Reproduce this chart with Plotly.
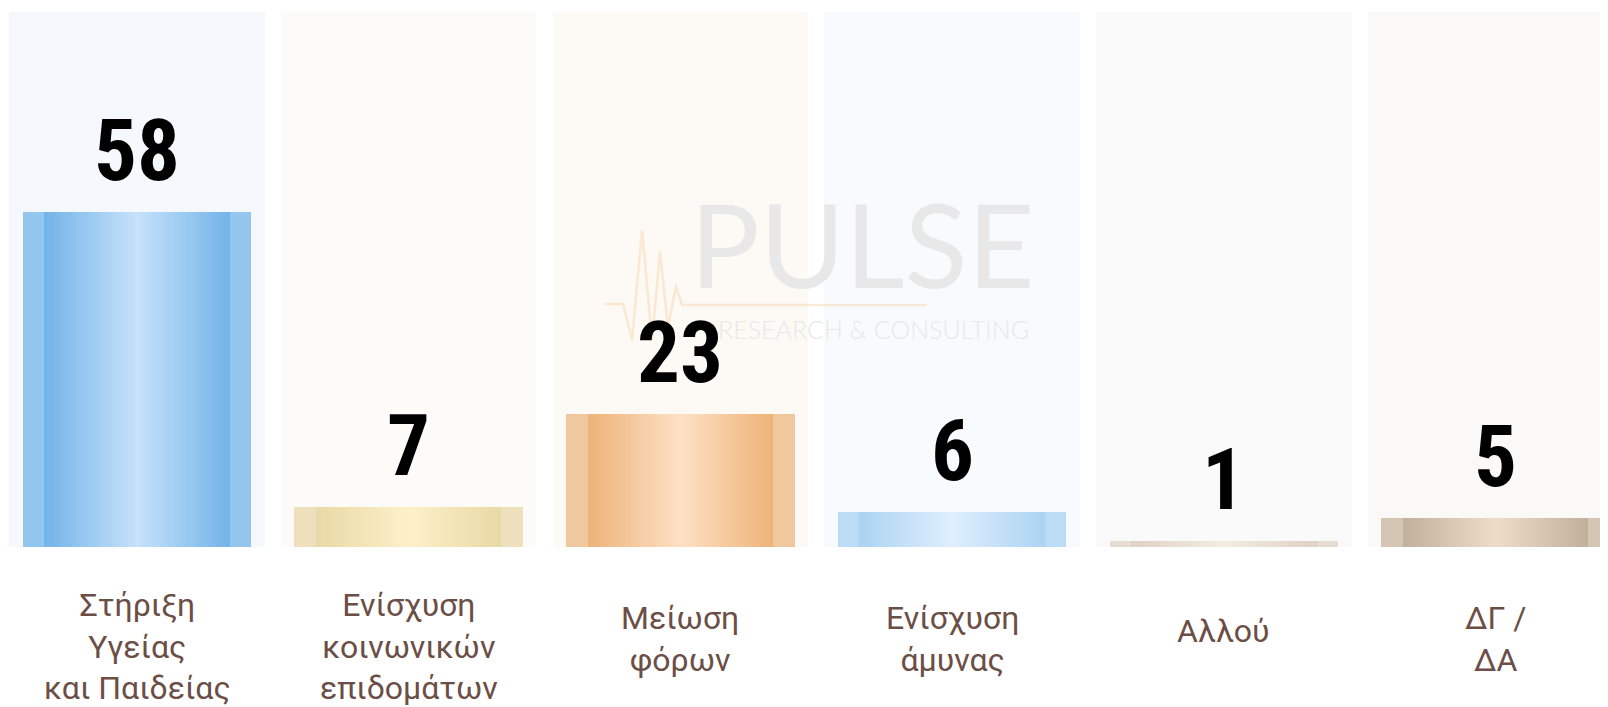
import plotly.graph_objects as go

# ---- data ----
categories = ["Στήριξη\nΥγείας\nκαι Παιδείας", "Ενίσχυση\nκοινωνικών\nεπιδομάτων",
              "Μείωση\nφόρων", "Ενίσχυση\nάμυνας", "Αλλού", "ΔΓ /\nΔΑ"]
values = [58, 7, 23, 6, 1, 5]

# ---- styles ----
strip_colors = ["#93c6ee", "#eee0bc", "#f0c89d", "#bcdcf6", "#e5ddd3", "#d4c5b5"]
edge_colors = ["#74b4e8", "#e9d9a6", "#edb479", "#acd3f3", "#ded2c4", "#c2b09b"]
center_colors = ["#c5e1fb", "#fdf0c8", "#fddfc4", "#deeefd", "#f3ece3", "#ecdcc8"]
column_colors = ["#f5f9fe", "#fdfbf7", "#fdf9f4", "#f7fbfd", "#fafafa", "#faf9f7"]
label_color = "#6b4e46"

W, H = 1608, 707
OFF = 8  # page body offset in the browser
x_idx = list(range(len(categories)))
col_height = max(values) * 1.6
BAR_W = 0.841
INNER_W = BAR_W * (1 - 2 * 0.094)
N_STEPS = 30


def hex2rgb(h):
    h = h.lstrip("#")
    return tuple(int(h[i:i + 2], 16) for i in (0, 2, 4))


def lerp(c1, c2, t):
    a, b = hex2rgb(c1), hex2rgb(c2)
    return "rgb(%d,%d,%d)" % tuple(round(a[i] + (b[i] - a[i]) * t) for i in range(3))


def px(x):
    return (x - OFF) / W


def py(y):
    return 1 - (y - OFF) / H


fig = go.Figure()

# background columns
fig.add_trace(go.Bar(x=x_idx, y=[col_height] * len(x_idx), width=0.94,
                     marker=dict(color=column_colors, line=dict(width=0)),
                     hoverinfo="skip", showlegend=False))

# outer strip
fig.add_trace(go.Bar(x=x_idx, y=values, width=BAR_W,
                     marker=dict(color=strip_colors, line=dict(width=0)),
                     hoverinfo="skip", showlegend=False))

# gradient (nested narrower bars, edge -> center)
for k in range(N_STEPS):
    t = k / (N_STEPS - 1)
    w = INNER_W * (1 - k / N_STEPS)
    cols = [lerp(edge_colors[i], center_colors[i], t) for i in range(len(values))]
    fig.add_trace(go.Bar(x=x_idx, y=values, width=w,
                         marker=dict(color=cols, line=dict(width=0)),
                         hoverinfo="skip", showlegend=False))

annotations = []
# value labels
for i, v in enumerate(values):
    annotations.append(dict(x=i, y=v, xref="x", yref="y", text=str(v), showarrow=False,
                            yanchor="bottom", yshift=9,
                            font=dict(family="Liberation Sans Narrow, Roboto Condensed, Roboto",
                                      size=85, color="#000000", weight="bold")))
# category labels
for i, c in enumerate(categories):
    lines = c.split("\n")
    n = len(lines)
    annotations.append(dict(x=i, y=0, xref="x", yref="y", text="<br>".join(lines),
                            showarrow=False, yanchor="middle",
                            yshift=-84 - 7.5 * (n - 1),
                            font=dict(family="Roboto", size=32, color=label_color)))

# watermark
annotations.append(dict(x=px(862), y=py(244), xref="paper", yref="paper", text="PULSE",
                        showarrow=False, xanchor="center", yanchor="middle",
                        font=dict(family="Lato", size=116, color="#e8e8e8", weight=400)))
annotations.append(dict(x=px(1031), y=py(329), xref="paper", yref="paper",
                        text="RESEARCH &amp; CONSULTING",
                        showarrow=False, xanchor="right", yanchor="middle",
                        font=dict(family="Lato", size=25, color="#e8e8e8", weight=300)))

pts = [(605, 304), (623, 304), (632, 340), (642, 230), (652, 340), (660, 252),
       (668, 327), (676, 287), (682, 305), (927, 305)]
path = "M " + " L ".join("%.4f,%.4f" % (px(a), py(b)) for a, b in pts)
shapes = [dict(type="path", path=path, xref="paper", yref="paper",
               line=dict(color="rgba(250,215,175,0.5)", width=2.5), layer="above")]

# axis ranges: baseline at screen y=547, 5.77 px/unit; category pitch 271.7 px, first at 137 px
x_per_px = 1 / 271.7
x0 = -(137 - OFF) * x_per_px
x1 = x0 + W * x_per_px
y_per_px = 1 / 5.77
y_top = (547 - OFF) * y_per_px
y_bot = y_top - H * y_per_px

fig.update_layout(
    width=W, height=H, barmode="overlay", bargap=0,
    margin=dict(l=0, r=0, t=0, b=0),
    paper_bgcolor="#ffffff", plot_bgcolor="#ffffff",
    xaxis=dict(range=[x0, x1], showgrid=False, zeroline=False,
               showticklabels=False, showline=False, fixedrange=True),
    yaxis=dict(range=[y_bot, y_top], showgrid=False, zeroline=False,
               showticklabels=False, showline=False, fixedrange=True),
    annotations=annotations, shapes=shapes, showlegend=False,
)

fig.write_html("out.html")
